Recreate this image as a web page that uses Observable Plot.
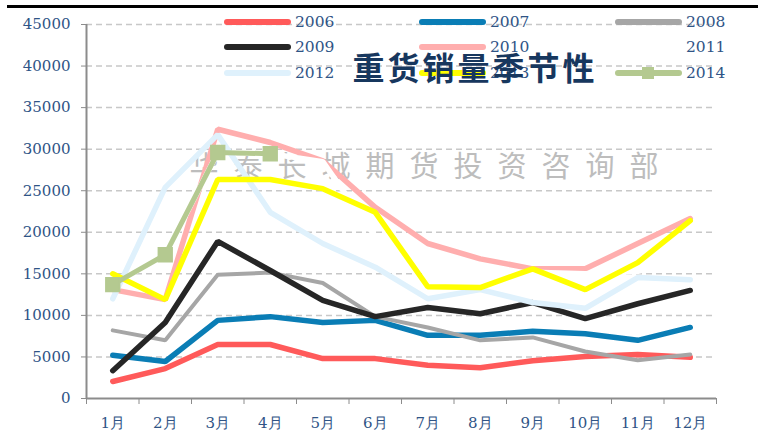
<!DOCTYPE html>
<html>
<head>
<meta charset="utf-8">
<script src="https://cdn.jsdelivr.net/npm/d3@7"></script>
<script src="https://cdn.jsdelivr.net/npm/@observablehq/plot@0.6"></script>
<style>
  html, body { margin: 0; padding: 0; background: #fff; }
  #wrap { position: relative; width: 758px; height: 439px; overflow: hidden; }
  #topline { position: absolute; left: 7px; top: 5px; width: 751px; height: 3px; background: #000; }
  #title { position: absolute; left: 475px; top: 50px; transform: translateX(-50%); white-space: nowrap;
    font-family: "Noto Sans CJK SC", sans-serif; font-weight: 700; font-size: 32px; line-height: 32px;
    letter-spacing: 3px; color: #17375e; }
  .lg { position: absolute; height: 20px; }
  .sw { position: absolute; height: 6px; border-radius: 3px; top: 7px; }
  .mk { position: absolute; width: 12px; height: 12px; top: 4px; }
  .lt { position: absolute; top: 0; line-height: 20px; font-family: "DejaVu Serif", serif; font-size: 15.5px; color: #2f5486; white-space: nowrap; }
  .wm text { letter-spacing: 15px; }
</style>
</head>
<body>
<div id="wrap"></div>
<script>
const months = ["1月","2月","3月","4月","5月","6月","7月","8月","9月","10月","11月","12月"];
const years = ["2006","2007","2008","2009","2010","2011","2012","2013","2014"];
const colors = ["#ff5a5a","#0a7db5","#a6a6a6","#262626","#ffaeae","#ffffff","#dff1fc","#ffff00","#b4c990"];
const widths = [5.5,5.5,4,5.5,5.5,5.5,5.5,5.5,5];
const yTicks = [0,5000,10000,15000,20000,25000,30000,35000,40000,45000];

const s2006 = [2050,3600,6500,6500,4800,4800,4000,3700,4550,5050,5300,4950];
const s2007 = [5200,4450,9400,9850,9150,9400,7600,7600,8100,7800,7000,8550];
const s2008 = [8200,7000,14900,15150,13900,9850,8550,7000,7350,5650,4600,5300];
const s2009 = [3350,9150,18900,15400,11800,9850,10950,10200,11550,9600,11400,13000];
const s2010 = [13100,11900,32400,30800,28600,23000,18650,16800,15600,15600,18650,21650];
const s2011 = [13700,17300,29600,29450,28500,19500,15000,15000,15200,15000,15300,17000];
const s2012 = [12000,25400,31750,22400,18650,15800,12000,13100,11550,10850,14550,14300];
const s2013 = [15000,11900,26350,26350,25250,22400,13450,13350,15600,13100,16350,21400];
const s2014 = [13700,17300,29600,29450,null,null,null,null,null,null,null,null];
const series = [s2006,s2007,s2008,s2009,s2010,s2011,s2012,s2013,s2014];
const watermark = "华泰长城期货投资咨询部";
const chartTitle = "重货销量季节性";

const tidy = (vals) => vals.map((v, i) => ({m: i + 1, v})).filter(d => d.v != null);

const lineMarks = series.map((s, k) => Plot.line(tidy(s), {
  x: "m", y: "v", stroke: colors[k], strokeWidth: widths[k],
  strokeLinecap: "round", strokeLinejoin: "miter"
}));

const chart = Plot.plot({
  width: 758, height: 439,
  marginLeft: 86, marginRight: 42, marginTop: 24, marginBottom: 41,
  x: {domain: [0.5, 12.5], label: null},
  y: {domain: [0, 45000], label: null},
  style: {fontFamily: "DejaVu Serif, serif", fontSize: "15px", color: "#2f5486", background: "transparent", overflow: "visible"},
  marks: [
    Plot.gridY(yTicks.slice(1), {stroke: "#c8c8c8", strokeOpacity: 1, strokeWidth: 1.5, strokeDasharray: "6,4"}),
    Plot.text([watermark], {frameAnchor: "top-left", dx: 103, dy: 143, textAnchor: "start", lineAnchor: "middle",
      fill: "#bdbdbd", fontSize: 29, fontFamily: "Noto Sans CJK SC, sans-serif", className: "wm"}),
    ...lineMarks,
    Plot.dot(tidy(s2014), {x: "m", y: "v", symbol: "square", r: 7.8, fill: colors[8], stroke: colors[8]}),
    Plot.ruleX([0.5], {stroke: "#8c8c8c", strokeWidth: 2}),
    Plot.ruleY([0], {stroke: "#8c8c8c", strokeWidth: 2}),
    Plot.axisY({ticks: yTicks, tickSize: 5, tickPadding: 11, tickFormat: d => String(d), stroke: "#8c8c8c", fill: "#2f5486", label: null}),
    Plot.axisX({ticks: d3.range(0.5, 13, 1), tickSize: 6, tickFormat: () => "", stroke: "#8c8c8c", label: null}),
    Plot.axisX({ticks: d3.range(1, 13), tickSize: 0, tickPadding: 19, tickFormat: i => months[i - 1], fill: "#2f5486", label: null})
  ]
});

const wrap = document.getElementById("wrap");
wrap.appendChild(chart);
chart.style.position = "absolute";
chart.style.left = "0";
chart.style.top = "0";

const topline = document.createElement("div");
topline.id = "topline";
wrap.appendChild(topline);

// legend
const colX = [224, 419, 615];
const rowY = [21.5, 47, 73];
years.forEach((yr, k) => {
  const c = k % 3, r = Math.floor(k / 3);
  const item = document.createElement("div");
  item.className = "lg";
  item.style.left = colX[c] + "px";
  item.style.top = (rowY[r] - 10) + "px";
  const sw = document.createElement("div");
  sw.className = "sw";
  sw.style.left = "0px";
  sw.style.width = "67px";
  sw.style.background = colors[k];
  item.appendChild(sw);
  if (yr === "2014") {
    const mk = document.createElement("div");
    mk.className = "mk";
    mk.style.left = "27px";
    mk.style.background = colors[k];
    item.appendChild(mk);
  }
  const t = document.createElement("div");
  t.className = "lt";
  t.style.left = "71px";
  t.textContent = yr;
  item.appendChild(t);
  wrap.appendChild(item);
});

const title = document.createElement("div");
title.id = "title";
title.textContent = chartTitle;
wrap.appendChild(title);
</script>
</body>
</html>
